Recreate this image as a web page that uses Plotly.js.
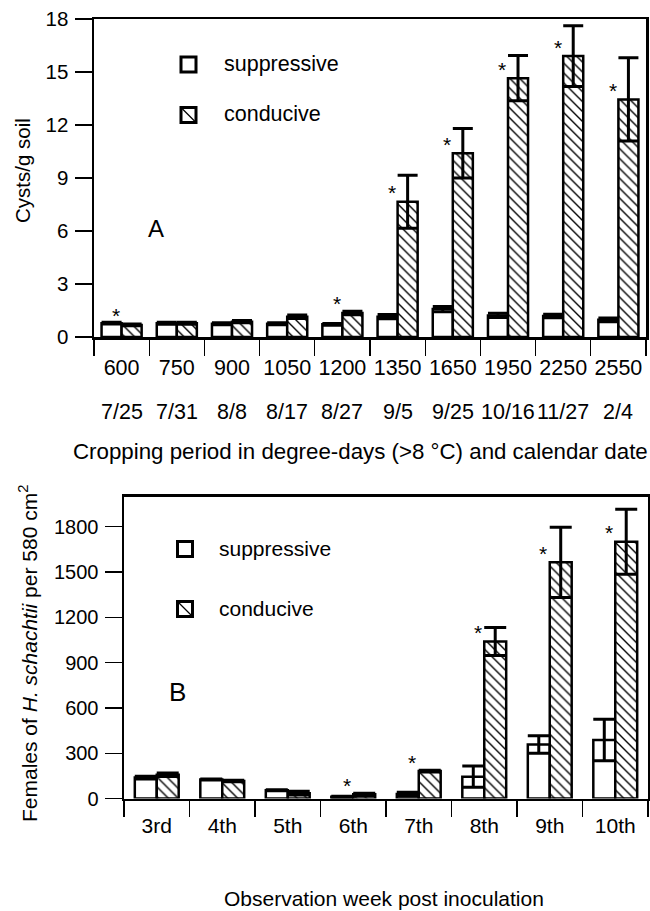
<!DOCTYPE html>
<html>
<head>
<meta charset="utf-8">
<script src="https://cdn.plot.ly/plotly-3.0.1.min.js"></script>
<style>html,body{margin:0;padding:0;background:#fff;}#chart{width:650px;height:911px;}</style>
</head>
<body>
<div id="chart"></div>
<script>
// ---- Panel A data ----
var catsA = ['600','750','900','1050','1200','1350','1650','1950','2250','2550'];
var datesA = ['7/25','7/31','8/8','8/17','8/27','9/5','9/25','10/16','11/27','2/4'];
var suppA = [0.78,0.78,0.75,0.75,0.72,1.15,1.58,1.22,1.19,0.97];
var suppErrA = [0.05,0.06,0.05,0.05,0.05,0.12,0.15,0.12,0.10,0.10];
var condA = [0.68,0.78,0.87,1.15,1.36,7.65,10.4,14.65,15.9,13.45];
var condErrA = [0.05,0.06,0.07,0.10,0.10,1.5,1.4,1.28,1.72,2.35];
var sigA = [1,0,0,0,1,1,1,1,1,1];
var yTicksA = [0,3,6,9,12,15,18];

// ---- Panel B data ----
var catsB = ['3rd','4th','5th','6th','7th','8th','9th','10th'];
var suppB = [139,126,55,12,30,145,358,388];
var suppErrB = [9,3,3,3,12,70,58,137];
var condB = [158,116,36,28,182,1040,1564,1700];
var condErrB = [12,5,12,8,6,92,232,215];
var sigB = [0,0,0,1,1,1,1,1];
var yTicksB = [0,300,600,900,1200,1500,1800];

var W = 650, H = 911;
function X(px){ return px / W; }
function Y(py){ return 1 - py / H; }
var FONT = 'Liberation Sans, Arial, sans-serif';

var hatch = {shape: '\\', fgcolor: '#000', bgcolor: '#fff', size: 7, solidity: 0.2};

function barTrace(cats, vals, errs, xa, ya, pattern, offset, width, capw) {
  var t = {
    type: 'bar', x: cats, y: vals, xaxis: xa, yaxis: ya,
    offset: offset, width: width,
    marker: {color: '#fff', line: {color: '#000', width: 2.5}},
    error_y: {type: 'data', array: errs, visible: true, color: '#000', thickness: 3, width: capw},
    showlegend: false, hoverinfo: 'skip'
  };
  if (pattern) t.marker.pattern = pattern;
  return t;
}

var wA = 0.363, wB = 0.335;
var data = [
  barTrace(catsA, suppA, suppErrA, 'x', 'y', null, -wA, wA, 10),
  barTrace(catsA, condA, condErrA, 'x', 'y', hatch, 0, wA, 10),
  barTrace(catsB, suppB, suppErrB, 'x2', 'y2', null, -wB, wB, 11),
  barTrace(catsB, condB, condErrB, 'x2', 'y2', hatch, 0, wB, 11)
];

var annotations = [];
var shapes = [];

// dates row under panel A
datesA.forEach(function(d, i){
  annotations.push({xref: 'x', yref: 'paper', x: i, y: Y(412), text: d, showarrow: false,
    xanchor: 'center', yanchor: 'middle', font: {family: FONT, size: 21.5, color: '#000'}});
});

// asterisks
sigA.forEach(function(s, i){
  if (s) annotations.push({xref: 'x', yref: 'y', x: i - 0.1, y: condA[i], yshift: 9, text: '*',
    showarrow: false, xanchor: 'center', yanchor: 'middle', font: {family: FONT, size: 21, color: '#000'}});
});
sigB.forEach(function(s, i){
  if (s) annotations.push({xref: 'x2', yref: 'y2', x: i - 0.1, y: condB[i], yshift: 9, text: '*',
    showarrow: false, xanchor: 'center', yanchor: 'middle', font: {family: FONT, size: 21, color: '#000'}});
});

// panel letters
annotations.push({xref: 'paper', yref: 'paper', x: X(156), y: Y(228), text: 'A', showarrow: false,
  xanchor: 'center', yanchor: 'middle', font: {family: FONT, size: 24, color: '#000'}});
annotations.push({xref: 'paper', yref: 'paper', x: X(177), y: Y(692), text: 'B', showarrow: false,
  xanchor: 'center', yanchor: 'middle', font: {family: FONT, size: 26, color: '#000'}});

// axis titles
annotations.push({xref: 'paper', yref: 'paper', x: X(360), y: Y(452),
  text: 'Cropping period in degree-days (>8 °C) and calendar date', showarrow: false,
  xanchor: 'center', yanchor: 'middle', font: {family: FONT, size: 22.3, color: '#000'}});
annotations.push({xref: 'paper', yref: 'paper', x: X(384), y: Y(898),
  text: 'Observation week post inoculation', showarrow: false,
  xanchor: 'center', yanchor: 'middle', font: {family: FONT, size: 21, color: '#000'}});
annotations.push({xref: 'paper', yref: 'paper', x: X(23), y: Y(171), text: 'Cysts/g soil',
  textangle: -90, showarrow: false, xanchor: 'center', yanchor: 'middle',
  font: {family: FONT, size: 20.5, color: '#000'}});
annotations.push({xref: 'paper', yref: 'paper', x: X(28), y: Y(654),
  text: 'Females of <i>H. schachtii</i> per 580 cm<sup>2</sup>',
  textangle: -90, showarrow: false, xanchor: 'center', yanchor: 'middle',
  font: {family: FONT, size: 21, color: '#000'}});

// legends (drawn manually)
function legend(cx, cy1, cy2, tx, fs) {
  var h = 7.5;
  shapes.push({type: 'rect', xref: 'paper', yref: 'paper', x0: X(cx-h), x1: X(cx+h), y0: Y(cy1+h), y1: Y(cy1-h),
    line: {color: '#000', width: 3}, fillcolor: '#fff'});
  shapes.push({type: 'rect', xref: 'paper', yref: 'paper', x0: X(cx-h), x1: X(cx+h), y0: Y(cy2+h), y1: Y(cy2-h),
    line: {color: '#000', width: 3}, fillcolor: '#fff'});
  shapes.push({type: 'line', xref: 'paper', yref: 'paper', x0: X(cx-h), x1: X(cx+h), y0: Y(cy2-h), y1: Y(cy2+h),
    line: {color: '#000', width: 1.3}});
  annotations.push({xref: 'paper', yref: 'paper', x: X(tx), y: Y(cy1-1), text: 'suppressive', showarrow: false,
    xanchor: 'left', yanchor: 'middle', font: {family: FONT, size: fs, color: '#000'}});
  annotations.push({xref: 'paper', yref: 'paper', x: X(tx), y: Y(cy2-1), text: 'conducive', showarrow: false,
    xanchor: 'left', yanchor: 'middle', font: {family: FONT, size: fs, color: '#000'}});
}
legend(188.5, 64.5, 115, 222, 21.5);
legend(185, 549, 609, 217, 21);

function xAxis(dom, anchor, fs, standoff) {
  return {domain: dom, anchor: anchor, type: 'category', tickson: 'boundaries', ticks: 'outside',
    ticklen: 16, tickwidth: 1.2, tickcolor: '#000', showline: true, linewidth: 2.5, linecolor: '#000',
    mirror: true, showgrid: false, zeroline: false, ticklabelstandoff: standoff, tickangle: 0,
    tickfont: {family: FONT, size: fs, color: '#000'}, fixedrange: true};
}
function yAxis(dom, anchor, range, tv, fs) {
  return {domain: dom, anchor: anchor, range: range, tickvals: tv, ticks: 'outside', ticklen: 17,
    tickwidth: 1.2, tickcolor: '#000', showline: true, linewidth: 2.5, linecolor: '#000', mirror: true,
    showgrid: false, zeroline: false, ticklabelstandoff: 2,
    tickfont: {family: FONT, size: fs, color: '#000'}, fixedrange: true};
}

var layout = {
  width: W, height: H,
  margin: {l: 0, r: 0, t: 0, b: 0, pad: 0},
  paper_bgcolor: '#fff', plot_bgcolor: '#fff',
  barmode: 'overlay',
  showlegend: false,
  font: {family: FONT, color: '#000'},
  xaxis: xAxis([X(94), X(646)], 'y', 21.5, 10),
  yaxis: yAxis([Y(337), Y(19)], 'x', [0, 18], yTicksA, 20.5),
  xaxis2: xAxis([X(124), X(648)], 'y2', 21, 7),
  yaxis2: yAxis([Y(798.6), Y(496.5)], 'x2', [0, 2000], yTicksB, 20),
  annotations: annotations,
  shapes: shapes
};

Plotly.newPlot('chart', data, layout, {staticPlot: true, displayModeBar: false});
</script>
</body>
</html>
